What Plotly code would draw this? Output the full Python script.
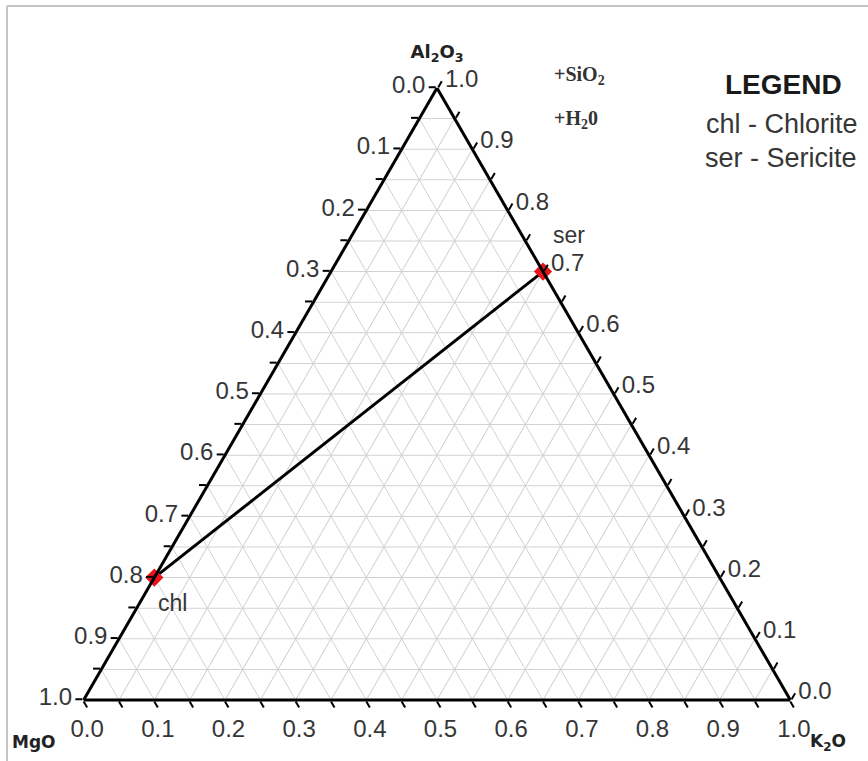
import plotly.graph_objects as go

# ---- data ----
minerals = ["chl", "ser"]
al2o3 = [0.2, 0.7]   # a (top)
mgo = [0.8, 0.0]     # b (bottom-left)
k2o = [0.0, 0.3]     # c (bottom-right)

grid_vals = [round(i * 0.05, 2) for i in range(21)]
# labels in reference read the complementary component along each edge
tick_text = [f"{1 - v:.1f}" if round(v * 20) % 2 == 0 else "" for v in grid_vals]

W, H = 868, 761
def px(x):
    return x / W
def py(y):
    return 1 - y / H

FONT = "Liberation Sans, Arial, sans-serif"
BOLD = "DejaVu Sans, Verdana, sans-serif"
SERIF = "Liberation Serif, Times New Roman, serif"
TICK_COL = "#363636"

fig = go.Figure()
fig.add_trace(go.Scatterternary(
    a=al2o3, b=mgo, c=k2o,
    mode="lines+markers",
    text=minerals,
    line=dict(color="black", width=3),
    marker=dict(symbol="diamond", size=14, color="#e8141c"),
    cliponaxis=False,
    showlegend=False,
    hoverinfo="text",
))

def axis(title):
    return dict(
        title=dict(text=title, font=dict(family=BOLD, size=18, color="#222")),
        tickmode="array", tickvals=grid_vals, ticktext=tick_text,
        tickfont=dict(family=FONT, size=24, color=TICK_COL),
        ticks="outside", ticklen=7, tickwidth=2, tickcolor="black",
        showline=True, linecolor="black", linewidth=3,
        showgrid=True, gridcolor="#d2d2d2", gridwidth=1,
        min=0,
    )

fig.update_layout(
    width=W, height=H,
    margin=dict(l=0, r=0, t=0, b=0),
    paper_bgcolor="white",
    ternary=dict(
        sum=1,
        domain=dict(x=[0.0069, 1.0], y=[py(700), py(88)]),
        bgcolor="white",
        aaxis=axis("<b>Al<sub>2</sub>O<sub>3</sub></b>"),
        baxis=axis(""),
        caxis=axis(""),
    ),
    showlegend=False,
)

ann = [
    ("<b>MgO</b>", 34, 742, 17, BOLD, "#222", "center"),
    ("<b>K<sub>2</sub>O</b>", 828, 742, 17, BOLD, "#222", "center"),
    ("chl", 172, 603, 23, FONT, TICK_COL, "center"),
    ("ser", 569, 235, 23, FONT, TICK_COL, "center"),
    ("<b>+SiO<sub>2</sub></b>", 552, 76, 20, SERIF, "#333", "left"),
    ("<b>+H<sub>2</sub>0</b>", 552, 120, 20, SERIF, "#333", "left"),
    ("<b>LEGEND</b>", 723, 84, 28, FONT, "#1a1a1a", "left"),
    ("chl - Chlorite", 704, 124, 27, FONT, TICK_COL, "left"),
    ("ser - Sericite", 703, 158, 27, FONT, TICK_COL, "left"),
]
for text, x, y, size, fam, col, xa in ann:
    fig.add_annotation(
        text=text, x=px(x), y=py(y), xref="paper", yref="paper",
        xanchor=xa, yanchor="middle", showarrow=False,
        font=dict(family=fam, size=size, color=col),
    )

# image frame (grey lines at top and left)
fig.add_shape(type="line", xref="paper", yref="paper",
              x0=px(7), x1=1, y0=py(6), y1=py(6),
              line=dict(color="#c4c4c4", width=2))
fig.add_shape(type="line", xref="paper", yref="paper",
              x0=px(7), x1=px(7), y0=py(6), y1=0,
              line=dict(color="#c4c4c4", width=2))

fig.write_html("out.html", config={"displayModeBar": False},
               post_script="document.body.style.margin='0';")
